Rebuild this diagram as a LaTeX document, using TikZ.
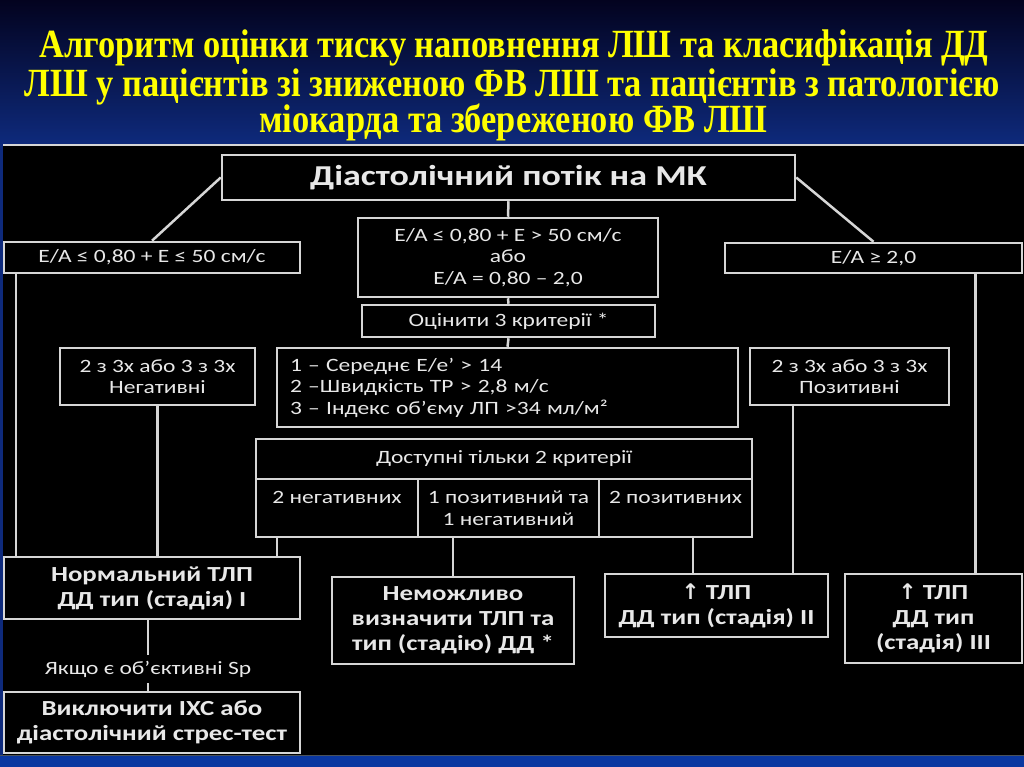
\documentclass[tikz,border=0pt]{standalone}
\usepackage{fontspec}
\usepackage{tikz}
\usetikzlibrary{positioning, calc}
\setmainfont{Carlito}[FakeStretch=1.25]
\newfontfamily\titlefont{Liberation Serif}[FakeStretch=0.86]
\newfontfamily\symfont{DejaVu Sans}
\definecolor{linegray}{HTML}{D6D6D6}
\definecolor{textwhite}{HTML}{E8E8E8}
\definecolor{titleyellow}{HTML}{FFFF00}
\definecolor{navytop}{HTML}{03031F}
\definecolor{navybottom}{HTML}{0E2A7C}
\definecolor{stripblue}{HTML}{0A37A0}
\definecolor{stripgray}{HTML}{4A525A}
\tikzstyle{titletext} = [anchor=base, inner sep=0pt, text=titleyellow, font=\titlefont\fontsize{40}{40}\selectfont\bfseries]
\tikzstyle{box} = [rectangle, draw=linegray, line width=2.5pt, fill=black, inner sep=0pt, align=center, text=textwhite, font=\fontsize{18.8}{21.5}\selectfont]
\tikzstyle{result} = [box, font=\fontsize{21.5}{25}\selectfont\bfseries]
\tikzstyle{headbox} = [box, font=\fontsize{28.8}{32}\selectfont\bfseries]
\tikzstyle{link} = [draw=linegray, line width=2.5pt]

\begin{document}
\begin{tikzpicture}[x=1pt, y=-1pt, every node/.style={text=textwhite}]
    \useasboundingbox (0,0) rectangle (1024,767);
    % background
    \shade[top color=navytop, bottom color=navybottom] (0,0) rectangle (1024,145);
    \fill[navybottom] (0,145) rectangle (3,756);
    \fill[black] (3,145) rectangle (1024,756);
    \draw[linegray, line width=2pt] (3,145) -- (1024,145);
    \fill[stripblue] (0,756) rectangle (1024,767);
    \draw[stripgray, line width=1.5pt] (0,755.5) -- (1024,755.5);

    % title
    \node[titletext] (title1) at (514,58) {Алгоритм оцінки тиску наповнення ЛШ та класифікація ДД};
    \node[titletext] (title2) at (512.5,97) {ЛШ у пацієнтів зі зниженою ФВ ЛШ та пацієнтів з патологією};
    \node[titletext] (title3) at (513.5,133) {міокарда та збереженою ФВ ЛШ};

    \node[headbox, minimum width=573pt, minimum height=45pt] (flow) at (508.5,177.5) {Діастолічний потік на МК};
    \node[box, minimum width=296pt, minimum height=31pt] (leftcond) at (152,257.5) {E/A ≤ 0,80 + E ≤ 50 см/с};
    \node[box, minimum width=300pt, minimum height=79pt] (midcond) at (508,257.5) {E/A ≤ 0,80 + E > 50 см/с\\або\\E/A = 0,80 – 2,0};
    \node[box, minimum width=297pt, minimum height=30pt] (rightcond) at (873.5,258) {E/A ≥ 2,0};
    \node[box, minimum width=293pt, minimum height=32pt] (assess) at (508.5,321) {Оцінити 3 критерії *};
    \node[box, minimum width=461pt, minimum height=79pt, text width=435pt, align=left] (crit) at (507.5,387.5) {1 – Середнє E/e’ > 14\\2 –Швидкість ТР > 2,8 м/с\\3 – Індекс об’єму ЛП >34 мл/м²};
    \node[box, minimum width=195pt, minimum height=57pt] (negbox) at (157.5,376.5) {2 з 3х або 3 з 3х\\Негативні};
    \node[box, minimum width=199pt, minimum height=57pt] (posbox) at (849.5,376.5) {2 з 3х або 3 з 3х\\Позитивні};

    \node[box, minimum width=496pt, minimum height=40pt] (avail) at (504,459) {Доступні тільки 2 критерії};
    \node[box, minimum width=162pt, minimum height=58pt] (cneg) at (337,508) {2 негативних\\\phantom{1}};
    \node[box, minimum width=181pt, minimum height=58pt] (cmix) at (508.5,508) {1 позитивний та\\1 негативний};
    \node[box, minimum width=153pt, minimum height=58pt] (cpos) at (675.5,508) {2 позитивних\\\phantom{1}};

    \node[result, minimum width=296pt, minimum height=62pt] (normal) at (152,588) {Нормальний ТЛП\\ДД тип (стадія) I};
    \node[inner sep=0pt, minimum height=28pt, font=\fontsize{18.8}{21.5}\selectfont] (ifsp) at (148,669) {Якщо є об’єктивні Sp};
    \node[result, minimum width=296pt, minimum height=61pt] (exclude) at (152,722.5) {Виключити ІХС або\\діастолічний стрес-тест};
    \node[result, minimum width=242pt, minimum height=87pt] (unknown) at (453,620.5) {Неможливо\\визначити ТЛП та\\тип (стадію) ДД *};
    \node[result, minimum width=223pt, minimum height=63pt] (stagetwo) at (716.5,605.5) {{\symfont ↑} ТЛП\\ДД тип (стадія) II};
    \node[result, minimum width=177pt, minimum height=89pt] (stagethree) at (933.5,618.5) {{\symfont ↑} ТЛП\\ДД тип\\(стадія) III};

    \coordinate (lefttap) at ([xshift=13pt]leftcond.south west);
    \coordinate (righttap) at ([xshift=-48pt]rightcond.south east);
    \coordinate (postap) at ([xshift=44pt]posbox.south west);
    \coordinate (negtap) at ([xshift=22pt]cneg.south west);
    \coordinate (postwo) at ([xshift=17.5pt]cpos.south);

    \draw[link] (flow.west) -- (leftcond.north);
    \draw[link] (flow.east) -- (rightcond.north);
    \draw[link] (flow.south) -- (midcond.north);
    \draw[link] (midcond.south) -- (assess.north);
    \draw[link] (assess.south) -- (crit.north);
    \draw[link] (lefttap) -- (lefttap |- normal.north);
    \draw[link] (righttap) -- (righttap |- stagethree.north);
    \draw[link] (negbox.south) -- (negbox.south |- normal.north);
    \draw[link] (postap) -- (postap |- stagetwo.north);
    \draw[link] (negtap) -- (negtap |- normal.north);
    \draw[link] (unknown.north) -- (unknown.north |- cmix.south);
    \draw[link] (postwo) -- (postwo |- stagetwo.north);
    \draw[link] (normal.south -| ifsp.north) -- (ifsp.north);
    \draw[link] (ifsp.south) -- (ifsp.south |- exclude.north);
\end{tikzpicture}
\end{document}
